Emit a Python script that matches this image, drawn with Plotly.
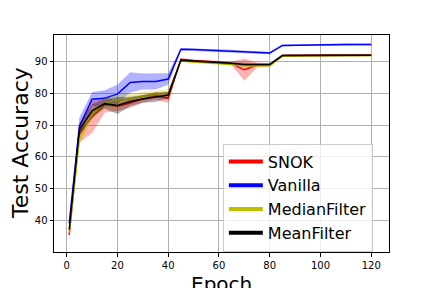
import plotly.graph_objects as go

epochs = [1, 5, 10, 15, 20, 25, 30, 35, 40, 45, 50, 55, 60, 65, 70, 75, 80,
          85, 90, 95, 100, 105, 110, 115, 120]

snok_mean = [35.3, 67.5, 72.5, 76.5, 76.0, 77.0, 78.3, 79.3, 78.5, 90.8, 90.4,
             90.2, 89.9, 89.5, 87.5, 89.0, 89.0, 92.0, 92.1, 92.1, 92.2, 92.2,
             92.2, 92.2, 92.2]
snok_std = [1.8, 3.0, 5.0, 2.5, 1.5, 1.5, 1.2, 1.2, 1.5, 0.4, 0.4, 0.4, 0.5,
            0.6, 3.5, 0.8, 0.5, 0.3, 0.3, 0.3, 0.3, 0.3, 0.3, 0.3, 0.3]

vanilla_mean = [39.0, 69.5, 78.2, 78.5, 79.8, 83.5, 83.8, 83.8, 84.6, 94.0,
                93.9, 93.7, 93.5, 93.4, 93.2, 93.0, 92.8, 95.2, 95.3, 95.4,
                95.4, 95.4, 95.5, 95.5, 95.5]
vanilla_std = [1.0, 3.0, 2.2, 2.5, 3.0, 3.2, 2.5, 2.5, 1.8, 0.4, 0.4, 0.4,
               0.4, 0.4, 0.4, 0.4, 0.4, 0.3, 0.3, 0.3, 0.3, 0.3, 0.3, 0.3, 0.3]

median_mean = [36.0, 65.5, 73.5, 77.0, 77.8, 78.5, 79.3, 79.8, 80.3, 90.3,
               90.0, 89.8, 89.6, 89.2, 88.8, 88.8, 88.8, 91.8, 91.9, 91.9,
               92.0, 92.0, 92.0, 92.0, 92.0]
median_std = [1.0, 2.0, 1.5, 1.5, 2.0, 1.5, 1.2, 1.2, 1.0, 0.4, 0.4, 0.4,
              0.4, 0.4, 0.4, 0.4, 0.4, 0.3, 0.3, 0.3, 0.3, 0.3, 0.3, 0.3, 0.3]

mean_mean = [37.0, 68.5, 74.5, 76.8, 76.2, 77.5, 78.3, 78.8, 79.5, 90.5, 90.2,
             90.0, 89.8, 89.6, 89.2, 89.2, 89.2, 92.0, 92.0, 92.1, 92.1, 92.1,
             92.1, 92.1, 92.1]
mean_std = [1.0, 2.0, 2.0, 1.5, 2.7, 1.5, 1.2, 1.5, 1.0, 0.4, 0.4, 0.4, 0.4,
            0.4, 0.4, 0.4, 0.4, 0.3, 0.3, 0.3, 0.3, 0.3, 0.3, 0.3, 0.3]

series = [
    ("SNOK", snok_mean, snok_std, "#ff0000", "rgba(255,0,0,0.3)"),
    ("Vanilla", vanilla_mean, vanilla_std, "#0000ff", "rgba(0,0,255,0.3)"),
    ("MedianFilter", median_mean, median_std, "#bfbf00", "rgba(191,191,0,0.3)"),
    ("MeanFilter", mean_mean, mean_std, "#000000", "rgba(0,0,0,0.3)"),
]

fig = go.Figure()
for name, m, s, col, fcol in series:
    upper = [a + b for a, b in zip(m, s)]
    lower = [a - b for a, b in zip(m, s)]
    fig.add_trace(go.Scatter(x=epochs + epochs[::-1], y=upper + lower[::-1],
                             fill="toself", fillcolor=fcol, line=dict(width=0),
                             mode="lines", showlegend=False, hoverinfo="skip"))
    fig.add_trace(go.Scatter(x=epochs, y=m, mode="lines",
                             line=dict(color=col, width=1.5), showlegend=False))
for name, m, s, col, fcol in series:
    fig.add_trace(go.Scatter(x=[None], y=[None], mode="lines", name=name,
                             line=dict(color=col, width=4)))

axis_common = dict(showline=True, mirror=True, linecolor="black", linewidth=1,
                   ticks="outside", ticklen=3.5, tickcolor="black",
                   showgrid=True, gridcolor="#b0b0b0", gridwidth=0.8,
                   zeroline=False,
                   tickfont=dict(family="DejaVu Sans", size=10, color="black"))

fig.update_layout(
    width=432, height=288,
    margin=dict(l=46, r=51, t=27, b=44),
    paper_bgcolor="white", plot_bgcolor="white",
    xaxis=dict(range=[-5, 127], tickvals=[0, 20, 40, 60, 80, 100, 120], **axis_common),
    yaxis=dict(range=[29.9, 98.5], tickvals=[40, 50, 60, 70, 80, 90], **axis_common),
    legend=dict(x=0.504, y=0.5, xanchor="left", yanchor="top",
                bgcolor="rgba(255,255,255,0.8)", bordercolor="#cccccc",
                borderwidth=1, itemwidth=34,
                font=dict(family="DejaVu Sans", size=16, color="black")),
    annotations=[
        dict(text="Test Accuracy", xref="paper", yref="paper", x=-0.1, y=0.5,
             xanchor="center", yanchor="middle", textangle=-90, showarrow=False,
             font=dict(family="DejaVu Sans", size=22, color="black")),
        dict(text="Epoch", xref="paper", yref="paper", x=0.5, y=-0.085,
             xanchor="center", yanchor="top", showarrow=False,
             font=dict(family="DejaVu Sans", size=20, color="black")),
    ],
)

fig.write_html("out.html")
